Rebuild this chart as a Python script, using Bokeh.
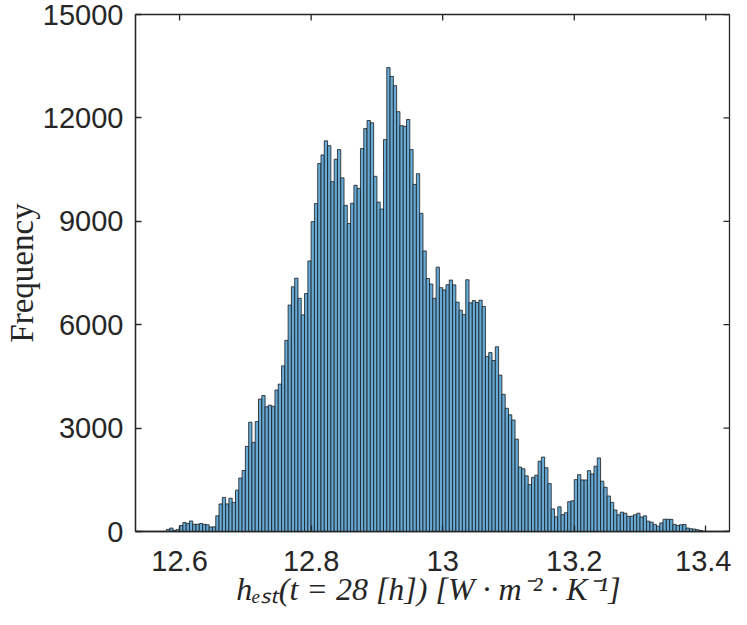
import numpy as np
from bokeh.plotting import figure
from bokeh.models import Range1d, FixedTicker, ColumnDataSource
from bokeh.embed import file_html
from bokeh.resources import INLINE

# ---- data ----
bin_start = 12.58
bin_width = 0.005
counts = [
    60, 100, 35, 60, 175, 260, 230, 305, 210, 210,
    230, 210, 195, 130, 135, 455, 800, 990, 800, 965,
    845, 1200, 1550, 1770, 2470, 3170, 2585, 3190, 3840, 3945,
    3620, 3665, 3630, 4105, 4275, 4805, 5545, 6570, 7100, 7350,
    6765, 6285, 6905, 7850, 8990, 9515, 10675, 10925, 11335, 11195,
    10150, 10800, 11080, 10260, 9460, 8935, 9525, 10045, 9950, 11110,
    11690, 11925, 11860, 10305, 9555, 9355, 11370, 13460, 13205, 12935,
    12180, 11775, 11755, 11955, 11080, 10070, 10380, 9230, 8140, 7340,
    7180, 6765, 7670, 7075, 7010, 7160, 7295, 7155, 6655, 6420,
    6295, 7305, 6635, 6700, 6645, 6710, 6530, 5080, 5190, 4960,
    5360, 4535, 3980, 3575, 3385, 3235, 2680, 1870, 1820, 1615,
    1360, 1570, 1635, 2040, 2160, 1850, 1390, 655, 425, 715,
    490, 545, 865, 890, 1505, 1650, 1495, 1495, 1765, 1670,
    1895, 2135, 1460, 1285, 1030, 845, 625, 485, 560, 530,
    440, 445, 485, 530, 420, 455, 300, 270, 205, 155,
    250, 355, 355, 350, 205, 175, 195, 205, 100, 80,
    70, 50, 30,
]
x_ticks = [12.6, 12.8, 13.0, 13.2, 13.4]
x_tick_labels = ["12.6", "12.8", "13", "13.2", "13.4"]
y_ticks = [0, 3000, 6000, 9000, 12000, 15000]
y_tick_labels = ["0", "3000", "6000", "9000", "12000", "15000"]
x_label = "h\u2091\u209b\u209c(t = 28 [h])  [W \u00b7 m\u207b\u00b2 \u00b7 K\u207b\u00b9]"
y_label = "Frequency"
x_min, x_max = 12.533, 13.436
y_min, y_max = 0, 15000

edges = bin_start + bin_width * np.arange(len(counts) + 1)
src = ColumnDataSource(dict(left=edges[:-1], right=edges[1:], top=counts))

AX = "#262626"
TICK_FONT = "Liberation Sans"

p = figure(width=731, height=609,
           x_range=Range1d(x_min, x_max), y_range=Range1d(y_min, y_max),
           output_backend="svg", toolbar_location=None,
           min_border_left=126, min_border_right=2,
           min_border_top=14, min_border_bottom=0)
p.background_fill_color = "white"
p.border_fill_color = "white"
p.outline_line_color = AX
p.outline_line_width = 1.3
p.xgrid.visible = False
p.ygrid.visible = False

p.quad(left="left", right="right", bottom=0, top="top", source=src,
       fill_color="#66AAD7", line_color="#1a1a1a", line_width=0.8)

# inward ticks on the top and right edges of the box
p.ray(x=x_ticks, y=[y_max] * len(x_ticks), length=6, length_units="screen",
      angle=-np.pi / 2, line_color=AX, line_width=1.3)
p.ray(x=[x_max] * len(y_ticks), y=y_ticks, length=6, length_units="screen",
      angle=np.pi, line_color=AX, line_width=1.3)

def style_axis(ax, ticks, labels):
    ax.ticker = FixedTicker(ticks=ticks)
    ax.major_label_overrides = {t: l for t, l in zip(ticks, labels)}
    ax.axis_line_color = AX
    ax.axis_line_width = 1.3
    ax.major_tick_line_color = AX
    ax.major_tick_line_width = 1.3
    ax.major_tick_in = 6
    ax.major_tick_out = 0
    ax.minor_tick_in = 0
    ax.minor_tick_out = 0
    ax.major_label_text_font = TICK_FONT
    ax.major_label_text_color = AX
    ax.major_label_text_font_size = "29px"

xa = p.xaxis[0]
style_axis(xa, x_ticks, x_tick_labels)
xa.major_label_standoff = 19
xa.axis_label = x_label
xa.axis_label_text_font = "Liberation Serif"
xa.axis_label_text_font_style = "italic"
xa.axis_label_text_font_size = "32px"
xa.axis_label_text_color = AX
xa.axis_label_standoff = -3

ya = p.yaxis[0]
style_axis(ya, y_ticks, y_tick_labels)
ya.major_label_standoff = 12
ya.axis_label = y_label
ya.axis_label_text_font = "Liberation Serif"
ya.axis_label_text_font_style = "normal"
ya.axis_label_text_font_size = "33px"
ya.axis_label_text_color = AX
ya.axis_label_standoff = 0

open("out.html", "w").write(file_html(p, INLINE))
